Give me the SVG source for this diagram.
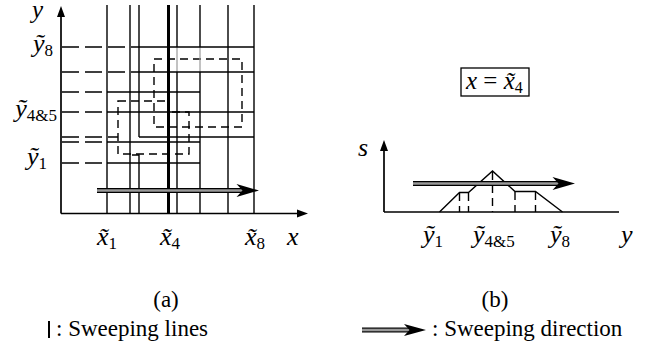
<svg xmlns="http://www.w3.org/2000/svg" xmlns:xlink="http://www.w3.org/1999/xlink" width="658" height="341" viewBox="0 0 658 341">
<style>
.ln{stroke:#000;stroke-width:1.4;fill:none}
.ax{stroke:#000;stroke-width:1.7;fill:none}
.gl{stroke:#999;stroke-width:1.2;fill:none}
.da{stroke:#000;stroke-width:1.4;fill:none;stroke-dasharray:17 6}
.ds{stroke:#000;stroke-width:1.4;fill:none;stroke-dasharray:8 5}
</style>
<defs>
<g id="sweep">
<rect x="0" y="-1.6" width="150" height="3.2" fill="#999"/>
<line x1="0" y1="-1.8" x2="150" y2="-1.8" stroke="#000" stroke-width="1.2"/>
<line x1="0" y1="1.8" x2="150" y2="1.8" stroke="#000" stroke-width="1.2"/>
<polygon points="162,0 139.5,-6.5 145.5,0 139.5,6.5" fill="#000"/>
</g>
</defs>

<g id="panel-a">
<g id="projections">
<line class="da" x1="62" y1="47" x2="139" y2="47"/>
<line class="da" x1="62" y1="72" x2="139" y2="72"/>
<line class="da" x1="62" y1="92" x2="107" y2="92"/>
<line class="da" x1="62" y1="112" x2="107" y2="112"/>
<line class="da" x1="62" y1="137" x2="118" y2="137"/>
<line class="da" x1="62" y1="142" x2="107" y2="142"/>
<line class="da" x1="62" y1="163" x2="107" y2="163"/>
</g>
<g id="dashed-rects">
<rect class="ds" x="154" y="59" width="88" height="68"/>
<path class="ds" d="M118,101 H168 V112 H189 V154 H118 Z"/>
</g>
<g id="sweep-lines">
<line class="ln" x1="107" y1="5" x2="107" y2="213"/>
<line class="ln" x1="130" y1="5" x2="130" y2="213"/>
<line class="ln" x1="139" y1="5" x2="139" y2="137"/>
<path class="ln" d="M132,155 H139 V213"/>
<line x1="168.5" y1="5" x2="168.5" y2="213" stroke="#000" stroke-width="3"/>
<line class="ln" x1="177" y1="5" x2="177" y2="47"/>
<line class="gl" x1="177" y1="47" x2="177" y2="72"/>
<line class="ln" x1="177" y1="72" x2="177" y2="213"/>
<line class="ln" x1="200" y1="5" x2="200" y2="47"/>
<line class="gl" x1="200" y1="47" x2="200" y2="72"/>
<line class="ln" x1="200" y1="72" x2="200" y2="213"/>
<line class="ln" x1="228" y1="5" x2="228" y2="213"/>
<line class="ln" x1="254" y1="5" x2="254" y2="213"/>
</g>
<g id="rects">
<line class="ln" x1="139" y1="47" x2="254" y2="47"/>
<line class="ln" x1="139" y1="72" x2="254" y2="72"/>
<line class="ln" x1="107" y1="112" x2="254" y2="112"/>
<line class="ln" x1="139" y1="137" x2="254" y2="137"/>
<line class="ln" x1="107" y1="92" x2="200" y2="92"/>
<line class="ln" x1="107" y1="142" x2="200" y2="142"/>
<line class="ln" x1="107" y1="163" x2="200" y2="163"/>
</g>
<g id="axes-a">
<line class="ax" x1="61" y1="14" x2="61" y2="213.5"/>
<line class="ax" x1="61" y1="213.5" x2="299" y2="213.5"/>
<polygon points="61,6 57,17 65,17" fill="#000"/>
<polygon points="308,213.5 297,209.5 297,217.5" fill="#000"/>
</g>
<use xlink:href="#sweep" href="#sweep" transform="translate(97,190.5)"/>
<g font-family="Liberation Serif, Times New Roman, serif" font-style="italic" font-size="26" fill="#000">
<text x="32" y="18" font-size="25">y</text>
<text x="53" y="52" text-anchor="end">ỹ<tspan font-style="normal" font-size="17" dy="4">8</tspan></text>
<text x="57" y="117" text-anchor="end">ỹ<tspan font-style="normal" font-size="17" dy="4">4&amp;5</tspan></text>
<text x="47" y="165" text-anchor="end">ỹ<tspan font-style="normal" font-size="17" dy="4">1</tspan></text>
<text x="97" y="245">x&#x303;<tspan font-style="normal" font-size="17" dy="4">1</tspan></text>
<text x="160" y="245">x&#x303;<tspan font-style="normal" font-size="17" dy="4">4</tspan></text>
<text x="245" y="245">x&#x303;<tspan font-style="normal" font-size="17" dy="4">8</tspan></text>
<text x="287" y="245">x</text>
</g>
<text x="166" y="307" text-anchor="middle" font-family="Liberation Serif, Times New Roman, serif" font-size="23">(a)</text>
</g>

<g id="panel-b">
<g id="box">
<rect x="461" y="68" width="68" height="28" fill="none" stroke="#000" stroke-width="1.3"/>
<text x="466" y="89" font-family="Liberation Serif, Times New Roman, serif" font-style="italic" font-size="25">x <tspan font-style="normal">=</tspan> x&#x303;<tspan font-style="normal" font-size="16" dy="4">4</tspan></text>
</g>
<g id="axes-b">
<line class="ax" x1="384" y1="148" x2="384" y2="212"/>
<polygon points="384,140 380,151 388,151" fill="#000"/>
<line class="ax" x1="384" y1="212" x2="619" y2="212"/>
</g>
<g id="profile">
<polyline class="ln" points="439.5,212 459.5,192.5 468.5,192.5 492.5,171 515,191.5 535.5,191.5 562.5,212"/>
<line class="ds" x1="459.5" y1="193" x2="459.5" y2="212" stroke-dasharray="5 3"/>
<line class="ds" x1="468.5" y1="193" x2="468.5" y2="212" stroke-dasharray="5 3"/>
<line class="ds" x1="492.5" y1="172" x2="492.5" y2="212" stroke-dasharray="6 3"/>
<line class="ds" x1="515" y1="192" x2="515" y2="212" stroke-dasharray="5 3"/>
<line class="ds" x1="535.5" y1="192" x2="535.5" y2="212" stroke-dasharray="5 3"/>
</g>
<use xlink:href="#sweep" href="#sweep" transform="translate(413,183.5)"/>
<g font-family="Liberation Serif, Times New Roman, serif" font-style="italic" font-size="26" fill="#000">
<text x="358" y="156">s</text>
<text x="423" y="243">ỹ<tspan font-style="normal" font-size="17" dy="4">1</tspan></text>
<text x="473" y="243">ỹ<tspan font-style="normal" font-size="17" dy="4">4&amp;5</tspan></text>
<text x="550" y="243">ỹ<tspan font-style="normal" font-size="17" dy="4">8</tspan></text>
<text x="621" y="243">y</text>
</g>
<text x="495" y="307" text-anchor="middle" font-family="Liberation Serif, Times New Roman, serif" font-size="23">(b)</text>
</g>

<g id="legend">
<line x1="49" y1="321" x2="49" y2="338" stroke="#000" stroke-width="2"/>
<text x="56" y="336" font-family="Liberation Serif, Times New Roman, serif" font-size="23">: Sweeping lines</text>
<g transform="translate(362,330)">
<rect x="0" y="-1.6" width="52" height="3.2" fill="#999"/>
<line x1="0" y1="-1.8" x2="52" y2="-1.8" stroke="#000" stroke-width="1.2"/>
<line x1="0" y1="1.8" x2="52" y2="1.8" stroke="#000" stroke-width="1.2"/>
<polygon points="64,0 42,-6 47.5,0 42,6" fill="#000"/>
</g>
<text x="432" y="336" font-family="Liberation Serif, Times New Roman, serif" font-size="23">: Sweeping direction</text>
</g>
</svg>
